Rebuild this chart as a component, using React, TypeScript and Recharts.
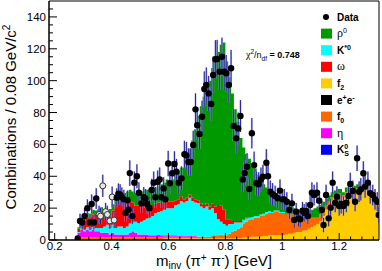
import { ComposedChart, Area, Scatter, ErrorBar, XAxis, YAxis, ReferenceArea } from "recharts";

// histogram bins (lower edge, GeV), width 0.01
const binLow = [
  0.28, 0.29, 0.3, 0.31, 0.32, 0.33, 0.34, 0.35, 0.36, 0.37,
  0.38, 0.39, 0.4, 0.41, 0.42, 0.43, 0.44, 0.45, 0.46, 0.47,
  0.48, 0.49, 0.5, 0.51, 0.52, 0.53, 0.54, 0.55, 0.56, 0.57,
  0.58, 0.59, 0.6, 0.61, 0.62, 0.63, 0.64, 0.65, 0.66, 0.67,
  0.68, 0.69, 0.7, 0.71, 0.72, 0.73, 0.74, 0.75, 0.76, 0.77,
  0.78, 0.79, 0.8, 0.81, 0.82, 0.83, 0.84, 0.85, 0.86, 0.87,
  0.88, 0.89, 0.9, 0.91, 0.92, 0.93, 0.94, 0.95, 0.96, 0.97,
  0.98, 0.99, 1, 1.01, 1.02, 1.03, 1.04, 1.05, 1.06, 1.07,
  1.08, 1.09, 1.1, 1.11, 1.12, 1.13, 1.14, 1.15, 1.16, 1.17,
  1.18, 1.19, 1.2, 1.21, 1.22, 1.23, 1.24, 1.25, 1.26, 1.27,
  1.28, 1.29, 1.3, 1.31, 1.32, 1.33,
];
const histEnd = 1.34;

// stacked components, bottom to top
const f2 = [
  0.5, 0.5, 0.5, 0.5, 0.5, 0.5, 0.5, 0.5, 0.5, 0.5,
  0.5, 0.5, 0.5, 0.5, 0.5, 0.5, 0.5, 0.5, 0.5, 0.5,
  0.5, 0.5, 0.5, 0.5, 0.5, 0.5, 0.5, 0.5, 0.5, 0.5,
  1, 1, 1, 1, 1, 1, 1, 1, 1, 1,
  1, 1, 1, 1, 1, 1, 1, 1, 1, 1,
  1, 1, 1, 1, 1, 1, 1, 1, 1.5, 1.5,
  1.5, 2, 2, 2, 2, 2.5, 2.5, 3, 3, 3,
  3, 3, 3, 3.5, 4, 4, 4.5, 5, 5, 6,
  6, 7, 8, 9, 10, 12, 15, 19, 22, 25,
  27, 28, 28, 27, 29, 30, 29, 31, 32, 31,
  30, 31, 28, 27, 26, 24,
];
const f0 = [
  1, 1, 1, 1, 1, 1, 1, 1, 1, 1,
  1, 1, 1, 1, 1, 1, 1, 1, 1, 1,
  1, 1, 1, 1, 1, 1, 1, 1, 1, 1,
  1, 1, 1, 1, 1, 1, 1, 1, 1, 1,
  1, 1, 1, 1, 1, 1, 1, 2, 2, 2,
  2.5, 2, 2, 3, 4, 5, 6, 7, 9, 10,
  11, 11, 12, 12, 13, 13, 14, 14, 14, 15,
  15, 14, 14, 13, 12, 12, 11, 10, 9, 8,
  8, 7, 6, 5, 4, 4, 3, 3, 2, 2,
  1.5, 1.5, 1, 1, 1, 1, 1, 0.5, 0.5, 0.5,
  0.5, 0.5, 0.5, 0.5, 0.5, 0.5,
];
const eta = [
  3, 5, 4, 5, 4, 5, 4, 4, 3, 3,
  3, 2, 3, 2, 2, 2, 2, 2, 3, 4,
  3, 2, 2, 2, 2, 1.5, 1.5, 1.5, 2, 1.5,
  1, 1, 1, 1, 1, 0.5, 0.5, 0.5, 0.5, 0.5,
  0.5, 0.5, 0, 0, 0, 0, 0, 0, 0, 0,
  0, 0, 0, 0, 0, 0, 0, 0, 0, 0,
  0, 0, 0, 0, 0, 0, 0, 0, 0, 0,
  0, 0, 0, 0, 0, 0, 0, 0, 0, 0,
  0, 0, 0, 0, 0, 0, 0, 0, 0, 0,
  0, 0, 0, 0, 0, 0, 0, 0, 0, 0,
  0, 0, 0, 0, 0, 0,
];
const kstar = [
  0.5, 1, 1, 1.5, 1, 1.5, 2, 2, 3, 4,
  5, 4, 5, 4, 5, 5, 4, 5, 6, 6,
  7, 7, 8, 9, 10, 11, 12, 14, 14, 15,
  16, 17, 17, 17, 19, 20, 22, 21, 22, 24,
  22, 21, 21, 19, 18, 19, 17, 17, 14, 10,
  8, 7, 6, 6, 5, 5, 4, 3, 2, 2,
  1.5, 1.5, 1, 1, 1, 1, 1, 1, 0.5, 0.5,
  0.5, 0.5, 0.5, 0, 0, 0, 0, 0, 0, 0,
  0, 0, 0, 0, 0, 0, 0, 0, 0, 0,
  0, 0, 0, 0, 0, 0, 0, 0, 0, 0,
  0, 0, 0, 0, 0, 0,
];
const omega = [
  2, 4, 7, 6, 8, 8, 9, 8, 9, 6,
  4, 6, 9, 15, 18, 17, 16, 16, 14, 12,
  10, 11, 10, 9, 8, 8, 7, 6, 6, 5,
  5, 5, 4, 4, 3, 3, 3, 2, 2, 2,
  2, 2, 2, 2, 2, 2, 2, 3, 4, 9,
  10, 9, 4, 3, 2, 1, 1, 1, 0.5, 0.5,
  0, 0, 0, 0, 0, 0, 0, 0, 0, 0,
  0, 0, 0, 0, 0, 0, 0, 0, 0, 0,
  0, 0, 0, 0, 0, 0, 0, 0, 0, 0,
  0, 0, 0, 0, 0, 0, 0, 0, 0, 0,
  0, 0, 0, 0, 0, 0,
];
const rho = [
  1, 2, 2, 3, 2, 3, 2, 4, 4, 5,
  5, 6, 4, 4, 3, 5, 6, 6, 7, 7,
  8, 9, 9, 10, 10, 10, 11, 10, 10, 12,
  12, 13, 13, 14, 16, 17, 18, 20, 24, 29,
  36, 44, 53, 61, 68, 73, 79, 85, 91, 96,
  101, 105, 99, 89, 80, 70, 62, 52, 45, 40,
  37, 33.5, 30, 26, 22, 18.5, 15.5, 14, 12.5, 9.5,
  7.5, 7.5, 6.5, 6.5, 6, 5, 4.5, 4, 4, 4,
  4, 4, 5, 6, 7, 6, 6, 4, 4, 3,
  2.5, 2.5, 3, 2, 3, 2, 3, 2.5, 2.5, 2.5,
  2.5, 2.5, 2.5, 2.5, 1.5, 1.5,
];

// measured points
const dataMass = [
  0.281, 0.289, 0.297, 0.305, 0.315, 0.324, 0.33, 0.338, 0.346,
  0.418, 0.424, 0.43, 0.436, 0.443, 0.449, 0.456, 0.46, 0.464, 0.473,
  0.48, 0.489, 0.496, 0.505, 0.513, 0.519, 0.525, 0.533, 0.541, 0.548,
  0.554, 0.562, 0.569, 0.575, 0.583, 0.589, 0.599, 0.605, 0.613, 0.621,
  0.628, 0.636, 0.646, 0.656, 0.663, 0.67, 0.678, 0.687, 0.695, 0.701,
  0.709, 0.718, 0.726, 0.733, 0.741, 0.75, 0.757, 0.765, 0.771, 0.78,
  0.788, 0.796, 0.803, 0.812, 0.82, 0.829, 0.838, 0.845, 0.853, 0.861,
  0.868, 0.876, 0.884, 0.893, 0.901, 0.909, 0.917, 0.925, 0.932, 0.944,
  0.95, 0.958, 0.966, 0.975, 0.984, 0.992, 1.0, 1.007, 1.016, 1.025,
  1.034, 1.042, 1.049, 1.057, 1.063, 1.071, 1.077, 1.084, 1.09, 1.098,
  1.104, 1.112, 1.122, 1.13, 1.139, 1.145, 1.154, 1.163, 1.17, 1.177,
  1.186, 1.192, 1.2, 1.207, 1.215, 1.225, 1.233, 1.239, 1.248, 1.256,
  1.263, 1.27, 1.276, 1.285, 1.291, 1.301, 1.309, 1.318, 1.326, 1.334,
  1.339,
];
const dataVal = [
  1, 12, 11, 15, 20, 11, 22.6, 11, 26,
  26.5, 29, 28.5, 27, 25.5, 17, 25, 19, 42, 15,
  36, 40, 29.7, 23, 26.8, 26, 22.6, 19.9, 31.4, 36,
  26.8, 36.6, 38, 26.8, 32.4, 25.5, 48, 35.6, 41.9, 47.7,
  42.9, 36, 38.7, 53.8, 53, 49, 49, 59.6, 82, 72,
  66.5, 77.4, 94.8, 97.3, 92, 85.4, 103.6, 113.4, 113.6, 105.6,
  115, 105.6, 104.6, 97.3, 107.8, 71.6, 63.8, 70, 77.8, 38,
  42, 46, 32, 67, 47, 35.6, 35, 38, 39.7, 48.5,
  40, 30.3, 28.7, 27.6, 26.2, 31, 25.5, 25.5, 24, 18.8,
  23, 12.6, 17.8, 13.6, 13, 18.4, 17.1, 18.2, 15, 22,
  29.7, 28.2, 29.7, 24.7, 18.8, 9.4, 28.2, 13.6, 20.3, 36,
  23.4, 27.2, 21.3, 22.6, 21.3, 23.4, 27.6, 35.2, 30.8, 24,
  51.3, 30.3, 31.8, 41.9, 33.5, 36, 29.3, 28.2, 25.5, 24,
  15.7,
];
const dataErr = [
  1.5, 4.5, 4.5, 5, 5.5, 4.5, 6, 4.5, 6.5,
  6, 6.5, 6.5, 6, 6, 5.5, 6, 5.5, 8, 5,
  7, 7.5, 6.5, 6, 6.5, 6, 6, 5.5, 7, 7,
  6.5, 7, 7.5, 6.5, 7, 6.5, 8, 7, 7.5, 8,
  8, 7.5, 7.5, 8.5, 8.5, 8.5, 8.5, 9, 10, 9.5,
  9.5, 10, 11, 11, 11, 10.5, 11.5, 12, 12, 11.5,
  12, 11.5, 11.5, 11, 11.5, 10, 9.5, 10, 10, 8,
  8, 8.5, 7, 9.5, 8.5, 7.5, 7.5, 7.5, 7.5, 8.5,
  8, 7, 7, 6.5, 6.5, 7, 6.5, 6.5, 6, 5.5,
  6, 5, 5.5, 5, 5, 5.5, 5.5, 5.5, 5, 6,
  6.5, 6.5, 6.5, 6, 5.5, 4.5, 6.5, 5, 5.5, 7,
  6, 6.5, 6, 6, 6, 6, 6.5, 7, 6.5, 6,
  8, 6.5, 7, 7.5, 7, 7, 6.5, 6.5, 6.5, 6,
  5,
];

// open markers (low-mass region)
const openMass = [0.356, 0.361, 0.369, 0.379, 0.385, 0.394, 0.402, 0.409];
const openVal = [16, 15, 34, 17.8, 16, 12, 27, 12.5];
const openErr = [5.5, 5, 7, 5.5, 5.5, 5, 6.5, 5];

const xTicks = [
  0.2, 0.24, 0.28, 0.32, 0.36, 0.4, 0.44, 0.48, 0.52, 0.56, 0.6, 0.64, 0.68, 0.72, 0.76,
  0.8, 0.84, 0.88, 0.92, 0.96, 1, 1.04, 1.08, 1.12, 1.16, 1.2, 1.24, 1.28, 1.32,
];
const yTicks = [0, 5, 10, 15, 20, 25, 30, 35, 40, 45, 50, 55, 60, 65, 70, 75, 80, 85, 90, 95, 100, 105, 110, 115, 120, 125, 130, 135, 140, 145];

const C = {
  rho: "#009900",
  kstar: "#00ffff",
  omega: "#ff0000",
  f2: "#ffcc00",
  ee: "#000000",
  f0: "#ff6600",
  eta: "#ff00ff",
  ks: "#0000ff",
};

const SANS = "Liberation Sans, Arial, Helvetica, sans-serif";
const SERIF = "Liberation Serif, Times New Roman, serif";

const rows = binLow.map((m, i) => ({
  m, f2: f2[i], f0: f0[i], eta: eta[i], kstar: kstar[i], omega: omega[i], rho: rho[i],
}));
// closing edge of the last bin
const table = [...rows, { ...rows[rows.length - 1], m: histEnd }];

const points = dataMass.map((m, i) => ({ m, v: dataVal[i], e: dataErr[i] }));
const openPoints = openMass.map((m, i) => ({ m, v: openVal[i], e: openErr[i] }));

function XTick(props: any) {
  const { x, y, payload } = props;
  const v = payload.value;
  const major = Math.abs(v * 5 - Math.round(v * 5)) < 1e-6;
  return (
    <g>
      <line x1={x} x2={x} y1={y} y2={y - (major ? 7 : 3.5)} stroke="#000" />
      {major && (
        <text x={x} y={y + 10} textAnchor="middle" fontSize={11.5} fontFamily={SANS} fill="#000">
          {Number(v.toFixed(1)).toString()}
        </text>
      )}
    </g>
  );
}

function YTick(props: any) {
  const { x, y, payload } = props;
  const v = payload.value;
  const major = v % 20 === 0;
  return (
    <g>
      <line x1={x} x2={x + (major ? 8 : 4)} y1={y} y2={y} stroke="#000" />
      {major && (
        <text x={x - 3} y={y + 4} textAnchor="end" fontSize={11.5} fontFamily={SANS} fill="#000">
          {v}
        </text>
      )}
    </g>
  );
}

const DataDot = (p: any) => <circle cx={p.cx} cy={p.cy} r={3.2} fill="#000" />;
const OpenDot = (p: any) => <circle cx={p.cx} cy={p.cy} r={3} fill="#e6e6e6" stroke="#333" strokeWidth={1} />;

const legendY = [17, 33.6, 50.2, 66.8, 83.4, 100, 116.6, 133.2, 149.8];

function Overlay() {
  const lx = 337;
  const sq = (i: number, color: string) => (
    <rect x={321} y={legendY[i] - 5} width={11} height={10} fill={color} />
  );
  const ty = (i: number) => legendY[i] + 3.6;
  return (
    <svg width={382} height={271} style={{ position: "absolute", left: 0, top: 0, pointerEvents: "none" }}>
      <g fontFamily={SANS} fontSize={10} fontWeight="bold" fill="#000">
        <circle cx={326} cy={legendY[0]} r={3} fill="#000" />
        <text x={lx} y={ty(0)}>Data</text>

        {sq(1, C.rho)}
        <text x={lx} y={ty(1)}>
          <tspan fontFamily={SERIF} fontWeight="normal" fontSize={12}>ρ</tspan>
          <tspan dy={-4} fontSize={7} fontWeight="normal">0</tspan>
        </text>

        {sq(2, C.kstar)}
        <text x={lx} y={ty(2)}>
          K<tspan dy={-4} fontSize={7}>*0</tspan>
        </text>

        {sq(3, C.omega)}
        <text x={lx} y={ty(3)} fontFamily={SERIF} fontWeight="normal" fontSize={12}>ω</text>

        {sq(4, C.f2)}
        <text x={lx} y={ty(4)}>
          f<tspan dy={2.5} fontSize={7}>2</tspan>
        </text>

        {sq(5, C.ee)}
        <text x={lx} y={ty(5)}>
          e<tspan dy={-4} fontSize={7}>+</tspan>
          <tspan dy={4}>e</tspan>
          <tspan dy={-4} fontSize={7}>-</tspan>
        </text>

        {sq(6, C.f0)}
        <text x={lx} y={ty(6)}>
          f<tspan dy={2.5} fontSize={7}>0</tspan>
        </text>

        {sq(7, C.eta)}
        <text x={lx} y={ty(7)} fontFamily={SERIF} fontWeight="normal" fontSize={12}>η</text>

        {sq(8, C.ks)}
        <text x={lx} y={ty(8)}>
          K<tspan dy={-4} fontSize={7}>0</tspan>
          <tspan x={lx + 7.3} dy={7} fontSize={7}>S</tspan>
        </text>
      </g>

      {/* fit quality */}
      <text x={246} y={58} fontFamily={SANS} fontSize={9} fill="#000">
        <tspan fontFamily={SERIF} fontSize={10}>χ</tspan>
        <tspan dy={-4} fontSize={6.5}>2</tspan>
        <tspan dy={4}>/n</tspan>
        <tspan dy={2.5} fontSize={6.5}>df</tspan>
        <tspan dy={-2.5} fontWeight="bold"> = 0.748</tspan>
      </text>

      {/* axis titles */}
      <text x={214} y={266} textAnchor="middle" fontFamily={SANS} fontSize={15} fill="#000">
        m<tspan dy={3} fontSize={10}>inv</tspan>
        <tspan dy={-3}> (π</tspan>
        <tspan dy={-5} fontSize={10}>+</tspan>
        <tspan dy={5}> π</tspan>
        <tspan dy={-5} fontSize={10}>-</tspan>
        <tspan dy={5}>) [GeV]</tspan>
      </text>
      <text x={-117} y={16} transform="rotate(-90)" textAnchor="middle" fontFamily={SANS} fontSize={15} fill="#000">
        Combinations / 0.08 GeV/c<tspan dy={-6} fontSize={10}>2</tspan>
      </text>
    </svg>
  );
}

export default function App() {
  const stack = [
    { key: "f2", color: C.f2 },
    { key: "f0", color: C.f0 },
    { key: "eta", color: C.eta },
    { key: "kstar", color: C.kstar },
    { key: "omega", color: C.omega },
    { key: "rho", color: C.rho },
  ];
  return (
    <div style={{ position: "absolute", left: 0, top: 0, width: 382, height: 271, background: "#fff" }}>
      <ComposedChart width={382} height={271} data={table} margin={{ top: 1, right: 3, bottom: 0, left: 0 }}>
        {stack.map((s) => (
          <Area
            key={s.key}
            dataKey={s.key}
            stackId="h"
            type="stepAfter"
            stroke="none"
            fill={s.color}
            fillOpacity={1}
            dot={false}
            activeDot={false}
            isAnimationActive={false}
          />
        ))}
        <ReferenceArea x1={0.18} x2={1.34} y1={0} y2={150} fill="none" stroke="#000" strokeWidth={1} />
        <XAxis
          dataKey="m"
          type="number"
          domain={[0.18, 1.34]}
          allowDataOverflow
          ticks={xTicks}
          interval={0}
          height={31}
          tickSize={0}
          tickMargin={0}
          tickLine={false}
          axisLine={{ stroke: "#000" }}
          tick={<XTick />}
        />
        <YAxis
          type="number"
          domain={[0, 150]}
          allowDataOverflow
          ticks={yTicks}
          interval={0}
          width={49}
          tickSize={0}
          tickMargin={0}
          tickLine={false}
          axisLine={{ stroke: "#000" }}
          tick={<YTick />}
        />
        <Scatter data={openPoints} dataKey="v" isAnimationActive={false} shape={OpenDot}>
          <ErrorBar dataKey="e" direction="y" width={0} stroke="#a4a4ea" strokeOpacity={0.8} strokeWidth={2} isAnimationActive={false} />
          <ErrorBar dataKey="e" direction="y" width={0} stroke="#25259a" strokeWidth={1} isAnimationActive={false} />
        </Scatter>
        <Scatter data={points} dataKey="v" isAnimationActive={false} shape={DataDot}>
          <ErrorBar dataKey="e" direction="y" width={0} stroke="#a4a4ea" strokeOpacity={0.8} strokeWidth={2} isAnimationActive={false} />
          <ErrorBar dataKey="e" direction="y" width={0} stroke="#25259a" strokeWidth={1} isAnimationActive={false} />
        </Scatter>
      </ComposedChart>
      <Overlay />
    </div>
  );
}
